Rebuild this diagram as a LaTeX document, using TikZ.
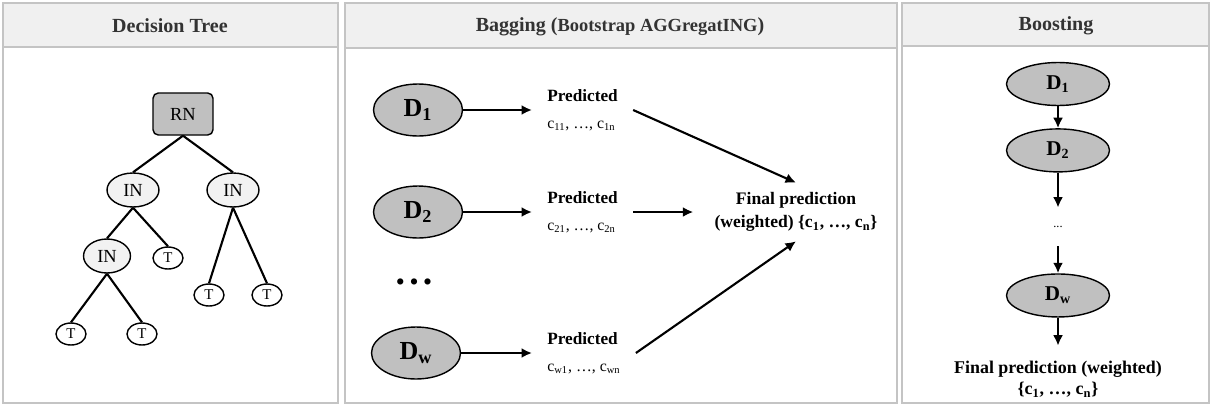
\documentclass[tikz,border=0pt]{standalone}
\usepackage{fontspec}
\setmainfont{Liberation Serif}
\usepackage{xcolor}
\usepackage{tikz}
\usetikzlibrary{arrows.meta,positioning,shapes.geometric}
\definecolor{frame}{HTML}{C4C4C4}
\definecolor{headbg}{HTML}{F0F0F0}
\definecolor{headtxt}{HTML}{333333}
\definecolor{dataset}{HTML}{C0C0C0}
\definecolor{inner}{HTML}{F2F2F2}
\newcommand{\setsize}[2]{\fontsize{#1}{#2}\selectfont}

\begin{document}
\begin{tikzpicture}[
  x=0.02cm, y=-0.02cm,
  panel/.style={draw=frame, line width=0.9pt},
  headband/.style={panel, fill=headbg},
  paneltitle/.style={font=\setsize{11.4}{13}\bfseries, text=headtxt},
  rootbox/.style={draw, rounded corners=3pt, fill=dataset, line width=0.8pt,
                  minimum width=1.2cm, minimum height=0.84cm, font=\setsize{10.5}{12}},
  split/.style={ellipse, draw, fill=inner, line width=0.8pt, inner sep=0pt,
                minimum width=1.04cm, minimum height=0.68cm, font=\setsize{10.5}{12}},
  leaf/.style={ellipse, draw, fill=white, line width=0.8pt, inner sep=0pt,
               minimum width=0.6cm, minimum height=0.44cm, font=\setsize{8.5}{10}},
  branch/.style={line width=1.2pt},
  dbag/.style={ellipse, draw, fill=dataset, line width=0.8pt, inner sep=0pt,
               minimum width=1.78cm, minimum height=1.04cm, font=\setsize{14.8}{16}\bfseries},
  dboost/.style={ellipse, draw, fill=dataset, line width=0.8pt, inner sep=0pt,
                 minimum width=2.06cm, minimum height=0.86cm, font=\setsize{12}{14}\bfseries},
  pred/.style={align=left, inner xsep=0.3cm, anchor=west, font=\setsize{9.8}{15.4}},
  outcome/.style={align=center, font=\setsize{10}{13}\bfseries},
  arrow/.style={-{Latex[length=2.1mm, width=2mm]}, line width=1.2pt}
]
  \useasboundingbox (0,0) rectangle (1212,406);

  \draw[panel] (3,3) rectangle (338,403);
  \draw[headband] (3,3) rectangle (338,47);
  \draw[panel] (345,3) rectangle (897,403);
  \draw[headband] (345,3) rectangle (897,48);
  \draw[panel] (902,3) rectangle (1209,403);
  \draw[headband] (902,3) rectangle (1209,46);

  \node[paneltitle] (treehead) at (170,26) {Decision Tree};
  \node[paneltitle] (baghead) at (620,27) {Bagging ({\setsize{10.5}{12}Bootstrap AGGregatING})};
  \node[paneltitle] (boosthead) at (1056,26) {Boosting};

  \node[rootbox] (rn) at (183,114) {RN};
  \node[split] (inl) at (133,190) {IN};
  \node[split] (inr) at (233,190) {IN};
  \node[split, minimum width=0.94cm] (inll) at (107,256) {IN};
  \node[leaf] (tl) at (168,258) {T};
  \node[leaf] (tr1) at (209,295) {T};
  \node[leaf] (tr2) at (267,295) {T};
  \node[leaf] (tb1) at (71,334) {T};
  \node[leaf] (tb2) at (142,334) {T};
  \draw[branch] (rn.south) -- (inl.north);
  \draw[branch] (rn.south) -- (inr.north);
  \draw[branch] (inl.south) -- (inll.north);
  \draw[branch] (inl.south) -- (tl.north);
  \draw[branch] (inr.south) -- (tr1.north);
  \draw[branch] (inr.south) -- (tr2.north);
  \draw[branch] (inll.south) -- (tb1.north);
  \draw[branch] (inll.south) -- (tb2.north);

  \node[dbag] (d1) at (418,110) {D\textsubscript{1}};
  \node[dbag] (d2) at (418,212) {D\textsubscript{2}};
  \node[font=\setsize{13}{15}\bfseries] (bagdots) at (414,284) {• • •};
  \node[dbag] (dw) at (416,353) {D\textsubscript{w}};
  \node[pred] (p1) at (532,110) {\textbf{Predicted}\\{\setsize{9}{10}c\textsubscript{11}, …, c\textsubscript{1n}}};
  \node[pred] (p2) at (532,212) {\textbf{Predicted}\\{\setsize{9}{10}c\textsubscript{21}, …, c\textsubscript{2n}}};
  \node[pred] (pw) at (532,353) {\textbf{Predicted}\\{\setsize{9}{10}c\textsubscript{w1}, …, c\textsubscript{wn}}};
  \node[outcome, inner xsep=0.42cm, inner ysep=0.19cm] (fin) at (796,212) {Final prediction\\(weighted) \{c\textsubscript{1}, …, c\textsubscript{n}\}};
  \draw[arrow] (d1.east) -- (p1.west);
  \draw[arrow] (d2.east) -- (p2.west);
  \draw[arrow] (dw.east) -- (pw.west);
  \draw[arrow] (p1.east) -- (fin.north);
  \draw[arrow] (p2.east) -- (fin.west);
  \draw[arrow] (pw.east) -- (fin.south);

  \node[dboost] (b1) at (1058,84) {D\textsubscript{1}};
  \node[dboost, below=0.44cm of b1] (b2) {D\textsubscript{2}};
  \node[below=0.7cm of b2, minimum height=0.76cm, inner sep=0pt, font=\setsize{7}{8}] (boostdots) {...};
  \node[dboost, below=0.54cm of boostdots] (bw) {D\textsubscript{w}};
  \node[outcome, below=0.56cm of bw, inner ysep=0.3cm, font=\setsize{10.2}{12}\bfseries] (boostfin) {Final prediction (weighted)\\\{c\textsubscript{1}, …, c\textsubscript{n}\}};
  \draw[arrow] (b1) -- (b2);
  \draw[arrow] (b2) -- (boostdots);
  \draw[arrow] (boostdots) -- (bw);
  \draw[arrow] (bw) -- (boostfin);
\end{tikzpicture}
\end{document}
